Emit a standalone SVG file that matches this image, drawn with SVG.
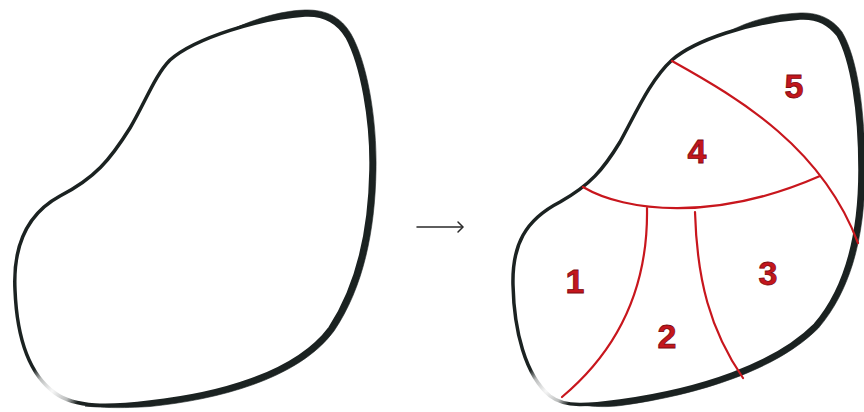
<svg xmlns="http://www.w3.org/2000/svg" width="864" height="412" viewBox="0 0 864 412">
<defs>
<style>
.ol{fill:none;stroke:#1b2221;stroke-width:3.5;stroke-linecap:round;stroke-linejoin:round}
.th{fill:#1b2221;stroke:#1b2221;stroke-width:0.6;stroke-linejoin:round}
.rd{fill:none;stroke:#c8161d;stroke-width:2.2;stroke-linecap:round}
.lb{font-family:"Liberation Sans",Arial,sans-serif;font-weight:bold;font-size:34px;fill:#c4161d;stroke:#7e0c10;stroke-width:0.8;text-anchor:middle}
.ar{fill:none;stroke:#2a2a2a;stroke-width:1.5;stroke-linecap:round;stroke-linejoin:round}
</style>
<radialGradient id="fade">
<stop offset="0" stop-color="#fff" stop-opacity="0.97"/>
<stop offset="0.6" stop-color="#fff" stop-opacity="0.7"/>
<stop offset="1" stop-color="#fff" stop-opacity="0"/>
</radialGradient>
</defs>
<rect width="864" height="412" fill="#fff"/>

<g id="shape-left">
<path class="ol" d="M170,60 C195,38 260,18 305,15 C325,14 338,22 347,37 C362,65 372,120 371,170 C370,230 358,285 330,328 C295,375 215,395 150,402 C110,407 75,408 55,393 C30,375 17,340 15,290 C13,250 25,215 60,196 C95,178 110,160 130,128 C145,103 155,75 170,60 Z"/>
<path class="th" d="M230,30.4 C258,20 285,15.5 305,15 C325,14 338,22 347,37 C362,65 372,120 371,170 C370,230 358,285 330,328 C295,375 215,395 150,402 C120,405 100,406 85,406 C100,407.5 120,408.5 150,406.5 C215,400 298,380 334,331 C363,288 375,232 376,170 C377,118 367,62 351,34 C341,17 326,9.5 305,10 C285,10.5 258,17 230,30.4 Z"/>
<circle cx="52" cy="391" r="28" fill="url(#fade)"/>
</g>

<g id="connectors">
<line class="ar" x1="417" y1="227" x2="462.5" y2="227"/>
<path class="ar" d="M458,222 L463,227 L458,232"/>
</g>

<g id="shape-right">
<path class="ol" d="M672,60 C695,40 750,22 800,18 C815,17 828,22 838,35 C852,60 860,110 860,170 C860,240 845,290 815,325 C775,365 700,390 620,401 C590,405 565,408 550,396 C525,375 514,330 513,285 C512,245 525,220 560,202 C590,185 603,170 620,142 C635,115 650,80 672,60 Z"/>
<path class="th" d="M726,33 C750,24.5 775,19 800,18 C815,17 828,22 838,35 C852,60 860,110 860,170 C860,240 845,290 815,325 C775,365 700,390 620,401 C605,403 595,404 580,405 C595,406.5 605,407.5 621,405.5 C701,394.5 778,369 818.5,328 C849,292 865,241 865,170 C865,109 857,57 842,32 C831,17 816,12.5 800,13 C775,14 750,20 726,33 Z"/>
<circle cx="546" cy="391" r="26" fill="url(#fade)"/>
</g>

<g id="region-lines">
<path class="rd" d="M672,61 C742,100 822,148 858,243"/>
<path class="rd" d="M583,187 C625,212 715,222 820,176"/>
<path class="rd" d="M647,208 C648,270 630,340 562,397"/>
<path class="rd" d="M695,212 C697,280 710,330 743,378"/>
</g>

<g id="labels">
<text class="lb" x="794" y="98">5</text>
<text class="lb" x="697" y="163">4</text>
<text class="lb" x="575" y="293">1</text>
<text class="lb" x="667" y="348">2</text>
<text class="lb" x="768" y="285">3</text>
</g>
</svg>
